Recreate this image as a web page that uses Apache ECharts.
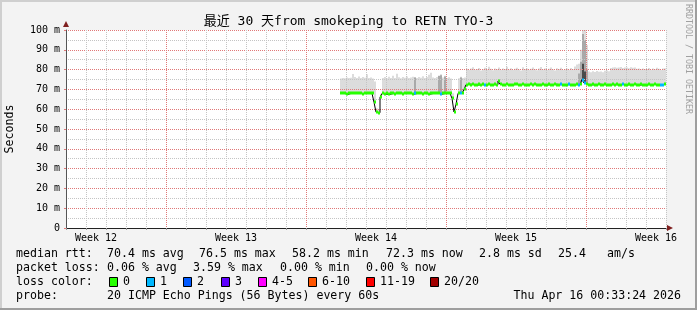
<!DOCTYPE html>
<html><head><meta charset="utf-8">
<script src="https://cdn.jsdelivr.net/npm/echarts@6/dist/echarts.min.js"></script>
<style>html,body{margin:0;padding:0;background:#f3f3f3}#c{width:697px;height:310px}</style>
</head><body><div id="c"></div>
<script>
// ---------------- data ----------------
const titleText = '最近 30 天from smokeping to RETN TYO-3';
const yAxisTitle = 'Seconds';
const sideText = 'RRDTOOL / TOBI OETIKER';
const weekDays = [1.5, 8.5, 15.5, 22.5, 29.5];
const weekLabels = ['Week 12', 'Week 13', 'Week 14', 'Week 15', 'Week 16'];
const majorDays = [5, 12, 19, 26];
const yTickLabels = ['0', '10 m', '20 m', '30 m', '40 m', '50 m', '60 m', '70 m', '80 m', '90 m', '100 m'];

// samples: first sample day and sampling step (days since left edge of the 30-day window)
const startDay = 13.7;
const stepDay = 0.1;

// median rtt (ms) per sample
const medianMs = [
  68.1, 68.0, 68.0, 67.5, 68.0, 68.1, 68.0, 68.0, 68.2, 68.0,
  68.0, 67.9, 68.0, 68.1, 68.0, 68.0, 68.0, 63.5, 58.5, 58.2,
  66.0, 68.0, 67.6, 68.0, 67.5, 68.0, 68.0, 67.6, 68.0, 68.1,
  68.0, 67.6, 68.0, 68.0, 68.1, 68.0, 67.6, 68.0, 68.0, 68.1,
  68.0, 67.6, 68.0, 68.0, 67.6, 68.0, 68.0, 68.0, 68.1, 68.0,
  67.6, 68.0, 68.0, 68.1, 68.0, 68.0, 65.5, 58.6, 62.5, 68.0,
  68.0, 68.1, 70.0,
  72.4, 72.6, 72.3, 72.5, 72.4, 72.2, 72.5, 72.4, 72.6, 72.3,
  72.4, 72.5, 72.3, 72.4, 72.6, 72.4, 74.2, 72.5, 72.4, 72.3,
  72.5, 72.4, 72.2, 72.4, 72.5, 72.6, 72.4, 72.3, 72.5, 72.4,
  72.4, 72.3, 72.5, 72.4, 72.6, 72.4, 72.2, 72.4, 72.5, 72.4,
  72.3, 72.5, 72.4, 72.4, 72.6, 72.3, 72.4, 72.5, 72.4, 72.2,
  72.4, 72.5, 72.3, 72.4, 72.4, 72.6, 72.4, 72.5, 75.0, 73.2,
  72.6, 72.4, 72.3, 72.5, 72.4, 72.4, 72.6, 72.3, 72.4, 72.5,
  72.4, 72.2, 72.4, 72.5, 72.4, 72.6, 72.3, 72.4, 72.5, 72.4,
  72.3, 72.5, 72.4, 72.4, 72.6, 72.4, 72.2, 72.5, 72.4, 72.3,
  72.4, 72.6, 72.4, 72.3, 72.5, 72.4, 72.4, 72.3, 72.4, 72.5
];

// upper edge of the ping smoke (ms) per sample
const smokeTopMs = [
  75.5, 75.8, 75.6, 76.0, 75.7, 75.9, 77.8, 76.2, 75.8, 76.5,
  75.7, 76.3, 75.9, 77.6, 75.8, 76.0, 75.5, 74.0, 60.5, 60.0,
  67.5, 75.7, 76.2, 75.6, 76.4, 75.8, 76.9, 75.7, 77.9, 76.1,
  75.6, 76.2, 75.9, 76.5, 75.8, 76.0, 76.4, 76.1, 75.7, 76.3,
  75.9, 76.6, 75.8, 76.2, 77.4, 78.4, 76.0, 75.8, 76.3, 77.0,
  77.6, 76.0, 76.9, 75.8, 76.1, 75.5, 68.0, 60.0, 64.0, 75.6,
  76.4, 75.8, 76.0,
  80.4, 79.8, 80.6, 81.2, 79.9, 80.3, 80.8, 79.6, 80.2, 80.9,
  80.1, 81.5, 80.4, 79.7, 80.6, 80.2, 81.0, 79.9, 80.5, 80.3,
  81.4, 80.0, 80.7, 79.8, 80.4, 80.9, 80.1, 79.6, 81.2, 80.3,
  80.6, 79.9, 80.4, 81.0, 80.2, 79.7, 80.5, 81.3, 80.0, 80.6,
  79.8, 80.4, 81.1, 80.1, 79.6, 80.7, 80.3, 80.9, 79.8, 80.2,
  80.5, 79.9, 80.8, 80.2, 81.6, 82.6, 83.0, 90.0, 100.0, 100.0,
  92.4, 79.0, 78.6, 79.2, 78.8, 79.3, 78.9, 79.1, 78.7, 79.4,
  79.5, 79.2, 80.8, 81.0, 81.2, 80.9, 81.1, 81.3, 80.8, 81.0,
  81.1, 80.7, 81.2, 80.9, 81.0, 80.4, 80.6, 80.2, 80.5, 80.3,
  80.3, 80.8, 79.9, 80.6, 80.2, 80.9, 80.4, 79.8, 80.5, 80.7
];

// denser smoke columns
const darkDays = [17.4, 18.6, 18.7, 18.9, 19.7, 25.6, 25.7, 25.8, 25.9, 26.0];
const darkTopMs = [76.0, 76.8, 77.2, 76.5, 76.0, 78.0, 84.0, 98.0, 95.0, 80.0];
const coreDays = [25.8, 25.9];
const coreTopMs = [83.0, 79.0];

// samples with lost pings (of 20)
const lossDays = [17.4, 18.7, 19.7, 20.9, 24.7, 25.1, 25.6, 25.8, 25.9, 27.8, 29.7, 29.8];
const lossCounts = [1, 1, 1, 1, 1, 1, 1, 1, 1, 1, 1, 1];

const lossLabels = ['0', '1', '2', '3', '4-5', '6-10', '11-19', '20/20'];
const lossColors = ['#26ff00', '#00b8ff', '#0059ff', '#5e00ff', '#ff00ff', '#ff5500', '#ff0000', '#a10000'];

const rttStats = ['median rtt:', '70.4 ms avg', '76.5 ms max', '58.2 ms min', '72.3 ms now', '2.8 ms sd', '25.4', 'am/s'];
const lossStats = ['packet loss:', '0.06 % avg', '3.59 % max', '0.00 % min', '0.00 % now'];
const lossColorTitle = 'loss color:';
const probeRow = ['probe:', '20 ICMP Echo Pings (56 Bytes) every 60s'];
const stampText = 'Thu Apr 16 00:33:24 2026';

// ---------------- build ----------------
const idxOf = d => Math.round((d - startDay) / stepDay);
const lossClass = n => n <= 0 ? 0 : n === 1 ? 1 : n === 2 ? 2 : n === 3 ? 3 : n <= 5 ? 4 : n <= 10 ? 5 : n <= 19 ? 6 : 7;
const lossArr = medianMs.map(() => 0);
lossDays.forEach((d, k) => { lossArr[idxOf(d)] = lossCounts[k]; });

const dayOf = i => +(startDay + i * stepDay).toFixed(3);
const smokeData = medianMs.map((m, i) => [dayOf(i), m - 0.3, smokeTopMs[i]]);
const darkData = darkDays.map((d, k) => [d, medianMs[idxOf(d)] - 0.3, darkTopMs[k]]);
const coreData = coreDays.map((d, k) => [d, medianMs[idxOf(d)] - 0.3, coreTopMs[k]]);
const medianLine = medianMs.map((m, i) => [dayOf(i), m]);
const medianData = medianMs.map((m, i) => [dayOf(i), m, lossArr[i]]);

function band(color) {
  return function (params, api) {
    const t = api.value(0), lo = api.value(1), hi = api.value(2);
    const p0 = api.coord([t, hi]);
    const p1 = api.coord([t + stepDay, lo]);
    const x0 = Math.round(p0[0]), x1 = Math.round(p1[0]);
    return { type: 'rect', shape: { x: x0, y: p0[1], width: x1 - x0, height: p1[1] - p0[1] },
      style: { fill: color } };
  };
}
function medianItem(params, api) {
  const t = api.value(0), m = api.value(1), n = api.value(2);
  const p0 = api.coord([t, m]);
  const p1 = api.coord([t + stepDay, m]);
  const x0 = Math.round(p0[0]), x1 = Math.round(p1[0]);
  return { type: 'rect', shape: { x: x0, y: Math.round(p0[1]) - 1.5, width: x1 - x0, height: 3 },
    style: { fill: lossColors[lossClass(n)] } };
}

const MONO = '"DejaVu Sans Mono", "Noto Sans CJK SC", monospace';
const FONT = '11.6px ' + MONO;
const graphics = [];
// frame shading
graphics.push({ type: 'rect', shape: { x: 0, y: 0, width: 697, height: 2 }, style: { fill: '#cfcfcf' }, silent: true });
graphics.push({ type: 'rect', shape: { x: 0, y: 0, width: 2, height: 310 }, style: { fill: '#cfcfcf' }, silent: true });
graphics.push({ type: 'rect', shape: { x: 0, y: 308, width: 697, height: 2 }, style: { fill: '#9e9e9e' }, silent: true });
graphics.push({ type: 'rect', shape: { x: 695, y: 0, width: 2, height: 310 }, style: { fill: '#9e9e9e' }, silent: true });
// title
graphics.push({ type: 'text', x: 348.5, y: 22, style: { text: titleText, font: '13px ' + MONO, fill: '#000', textAlign: 'center', textVerticalAlign: 'middle' } });
// y title
graphics.push({ type: 'text', x: 10, y: 129, rotation: Math.PI / 2, style: { text: yAxisTitle, font: FONT, fill: '#000', textAlign: 'center', textVerticalAlign: 'middle' } });
// side watermark
graphics.push({ type: 'text', x: 688, y: 4, rotation: -Math.PI / 2, style: { text: sideText, font: '8.3px ' + MONO, fill: '#a0a0a0', textAlign: 'left', textVerticalAlign: 'middle' } });
// legend rows
const rttX = [16, 107, 199, 292, 386, 479, 558, 607];
rttStats.forEach((s, k) => graphics.push({ type: 'text', x: rttX[k], y: 254, style: { text: s, font: FONT, fill: '#000', textVerticalAlign: 'middle' } }));
const lossX = [16, 107, 193, 280, 366];
lossStats.forEach((s, k) => graphics.push({ type: 'text', x: lossX[k], y: 268, style: { text: s, font: FONT, fill: '#000', textVerticalAlign: 'middle' } }));
graphics.push({ type: 'text', x: 16, y: 282, style: { text: lossColorTitle, font: FONT, fill: '#000', textVerticalAlign: 'middle' } });
const boxX = [109, 146, 183, 221, 258, 308, 366, 430];
lossLabels.forEach((s, k) => {
  graphics.push({ type: 'rect', shape: { x: boxX[k] + 0.5, y: 277.5, width: 8, height: 9 }, style: { fill: lossColors[k], stroke: '#000', lineWidth: 1 } });
  graphics.push({ type: 'text', x: boxX[k] + 14, y: 282, style: { text: s, font: FONT, fill: '#000', textVerticalAlign: 'middle' } });
});
graphics.push({ type: 'text', x: 16, y: 296, style: { text: probeRow[0], font: FONT, fill: '#000', textVerticalAlign: 'middle' } });
graphics.push({ type: 'text', x: 107, y: 296, style: { text: probeRow[1], font: FONT, fill: '#000', textVerticalAlign: 'middle' } });
graphics.push({ type: 'text', x: 681, y: 296, style: { text: stampText, font: FONT, fill: '#000', textAlign: 'right', textVerticalAlign: 'middle' } });

const GRAY = '#c4c4c4', RED = '#e07878';
// one colour per day line, red on the week boundaries
const dayLineColors = [];
for (let d = 0; d <= 30; d++) dayLineColors.push(majorDays.indexOf(d) >= 0 ? RED : GRAY);

const option = {
  animation: false,
  backgroundColor: '#f3f3f3',
  grid: { left: 66, top: 30, width: 600, height: 198, show: true, backgroundColor: '#ffffff', borderWidth: 0, outerBoundsMode: 'none', containLabel: false },
  xAxis: [
    { type: 'value', min: 0, max: 30, interval: 1, position: 'bottom', z: 2,
      axisLine: { show: true, onZero: false, lineStyle: { color: '#222', width: 1 } },
      axisTick: { show: true, length: 2, lineStyle: { color: '#999' } },
      axisLabel: { show: false },
      splitLine: { show: true, lineStyle: { color: dayLineColors, width: 1, type: [1, 1] } } },
    { type: 'value', min: 0, max: 30, interval: 0.5, position: 'bottom', z: 2,
      axisLine: { show: false, onZero: false }, axisTick: { show: false }, splitLine: { show: false },
      axisLabel: { show: true, interval: 0, margin: 5, fontFamily: MONO, fontSize: 10, color: '#000', hideOverlap: false,
        formatter: v => { const k = weekDays.findIndex(d => Math.abs(d - v) < 1e-6); return k >= 0 ? weekLabels[k] : ''; } } },
    { type: 'value', min: 0, max: 30, position: 'bottom', z: 2,
      axisLine: { show: true, onZero: false, symbol: ['none', 'triangle'], symbolSize: [6, 6], symbolOffset: [0, 4], lineStyle: { color: '#7f1f1f', width: 0 } },
      axisTick: { show: false }, axisLabel: { show: false }, splitLine: { show: false } }
  ],
  yAxis: [
    { type: 'value', min: 0, max: 100, interval: 10, position: 'left', z: 2,
      axisLine: { show: true, onZero: false, lineStyle: { color: '#555', width: 1 } },
      axisTick: { show: true, length: 2, lineStyle: { color: RED } },
      axisLabel: { show: true, margin: 6, fontFamily: MONO, fontSize: 10, color: '#000', formatter: v => yTickLabels[Math.round(v / 10)] },
      splitLine: { show: true, lineStyle: { color: RED, width: 1, type: [1, 1] } },
      minorTick: { show: false, splitNumber: 2 },
      minorSplitLine: { show: true, lineStyle: { color: GRAY, width: 1, type: [1, 1] } } },
    { type: 'value', min: 0, max: 100, position: 'left', z: 2,
      axisLine: { show: true, onZero: false, symbol: ['none', 'triangle'], symbolSize: [6, 6], symbolOffset: [0, 6], lineStyle: { color: '#7f1f1f', width: 0 } },
      axisTick: { show: false }, axisLabel: { show: false }, splitLine: { show: false } }
  ],
  series: [
    { type: 'custom', name: 'smoke', z: 1, silent: true, clip: true, renderItem: band('#dcdcdc'), data: smokeData },
    { type: 'custom', name: 'smoke-dense', z: 1, silent: true, clip: true, renderItem: band('#a9a9a9'), data: darkData },
    { type: 'custom', name: 'smoke-core', z: 1, silent: true, clip: true, renderItem: band('#4a4a4a'), data: coreData },
    { type: 'line', name: 'median', z: 3, silent: true, step: 'end', showSymbol: false, symbol: 'none',
      lineStyle: { color: '#000', width: 1 }, data: medianLine },
    { type: 'custom', name: 'median-loss', z: 4, silent: true, clip: true, renderItem: medianItem, data: medianData }
  ],
  graphic: graphics
};
const chart = echarts.init(document.getElementById('c'), null, { renderer: 'canvas' });
chart.setOption(option);
</script></body></html>
